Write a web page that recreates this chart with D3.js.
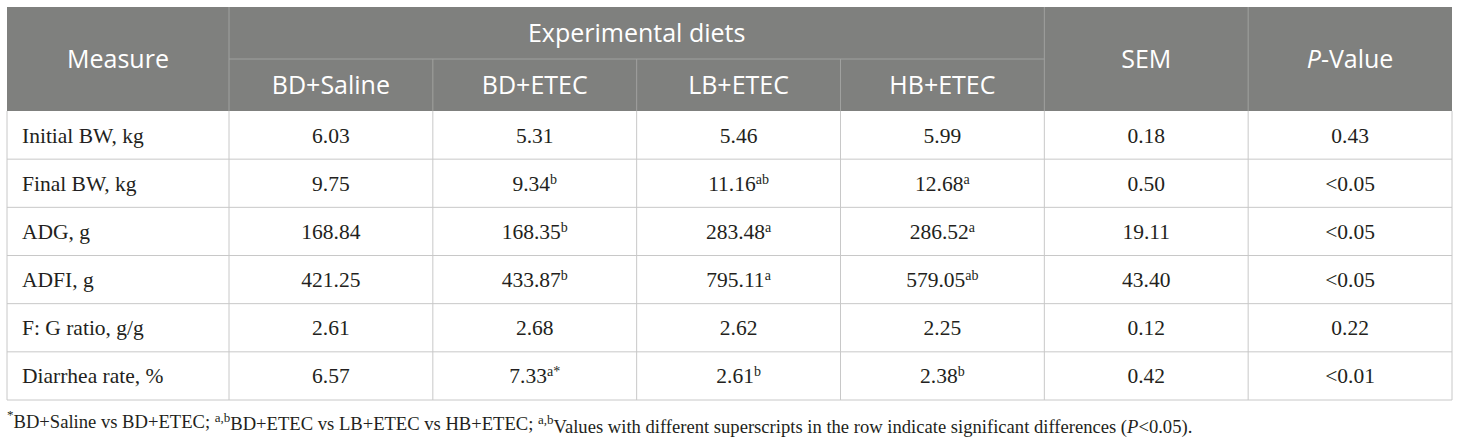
<!DOCTYPE html>
<html lang="en">
    <head>
        <meta charset="utf-8">
        <title>Experimental diets table</title>
        <script type="text/javascript" src="https://d3js.org/d3.v7.min.js"></script>

        <style type="text/css">
            body {
                margin: 0;
                background-color: #ffffff;
            }

            /* header text */
            .head {
                font-family: "Open Sans", "Noto Sans", sans-serif;
                font-size: 25px;
                fill: #ffffff;
            }

            /* body cells */
            .cell {
                font-family: "Liberation Serif", "DejaVu Serif", serif;
                font-size: 21.5px;
                fill: #231f20;
            }

            .note {
                font-family: "Liberation Serif", "DejaVu Serif", serif;
                font-size: 18.6px;
                fill: #231f20;
            }
        </style>
    </head>

    <body>
        <svg width="1460" height="438" id="svg1"></svg>

        <script type="text/javascript">

            // table data
            const measures = ["Initial BW, kg", "Final BW, kg", "ADG, g", "ADFI, g", "F: G ratio, g/g", "Diarrhea rate, %"];
            const groups = ["BD+Saline", "BD+ETEC", "LB+ETEC", "HB+ETEC"];

            const bdSaline = [6.03, 9.75, 168.84, 421.25, 2.61, 6.57];
            const bdEtec   = [5.31, 9.34, 168.35, 433.87, 2.68, 7.33];
            const lbEtec   = [5.46, 11.16, 283.48, 795.11, 2.62, 2.61];
            const hbEtec   = [5.99, 12.68, 286.52, 579.05, 2.25, 2.38];

            // superscript letters
            const bdSalineSup = ["", "", "", "", "", ""];
            const bdEtecSup   = ["", "b", "b", "b", "", "a*"];
            const lbEtecSup   = ["", "ab", "a", "a", "", "b"];
            const hbEtecSup   = ["", "a", "a", "ab", "", "b"];

            const sem = [0.18, 0.50, 19.11, 43.40, 0.12, 0.42];
            const pValues = ["0.43", "<0.05", "<0.05", "<0.05", "0.22", "<0.01"];

            const svg = d3.select("#svg1");
            const tLeft = 7, tRight = 1452, tTop = 7, headH = 104, tBottom = 400;
            const firstColW = 222;
            const headColor = "#7f807e";
            const headLine = "#a0a19f";
            const bodyLine = "#c8c8c8";

            // column scale for the 6 value columns
            const colKeys = groups.concat(["SEM", "P"]);
            const xScale = d3.scaleBand()
                            .domain(colKeys)
                            .range([tLeft + firstColW, tRight]);

            // row scale for data rows
            const yScale = d3.scaleBand()
                            .domain(measures)
                            .range([tTop + headH, tBottom]);

            const fmt = d3.format(".2f");

            // header background
            svg.append("rect")
                .attr("x", tLeft)
                .attr("y", tTop)
                .attr("width", tRight - tLeft)
                .attr("height", headH)
                .style("fill", headColor);

            const midHead = tTop + headH / 2;

            // header lines
            svg.append("line")
                .attr("x1", xScale("BD+Saline")).attr("x2", xScale("SEM"))
                .attr("y1", midHead).attr("y2", midHead)
                .style("stroke", headLine);

            svg.selectAll("headv")
                .data(colKeys)
                .enter()
                .append("line")
                .attr("x1", d => xScale(d)).attr("x2", d => xScale(d))
                .attr("y1", (d, i) => (i > 0 && i < 4) ? midHead : tTop)
                .attr("y2", tTop + headH)
                .style("stroke", headLine);

            // header texts
            svg.append("text")
                .attr("class", "head")
                .attr("x", tLeft + firstColW / 2)
                .attr("y", midHead)
                .attr("dy", "0.35em")
                .attr("text-anchor", "middle")
                .text("Measure");

            svg.append("text")
                .attr("class", "head")
                .attr("x", (xScale("BD+Saline") + xScale("SEM")) / 2)
                .attr("y", tTop + headH / 4)
                .attr("dy", "0.35em")
                .attr("text-anchor", "middle")
                .text("Experimental diets");

            svg.selectAll("grouplabels")
                .data(groups)
                .enter()
                .append("text")
                .attr("class", "head")
                .attr("x", d => xScale(d) + xScale.bandwidth() / 2)
                .attr("y", tTop + headH * 3 / 4)
                .attr("dy", "0.35em")
                .attr("text-anchor", "middle")
                .text(d => d);

            svg.append("text")
                .attr("class", "head")
                .attr("x", xScale("SEM") + xScale.bandwidth() / 2)
                .attr("y", midHead)
                .attr("dy", "0.35em")
                .attr("text-anchor", "middle")
                .text("SEM");

            const pHead = svg.append("text")
                .attr("class", "head")
                .attr("x", xScale("P") + xScale.bandwidth() / 2)
                .attr("y", midHead)
                .attr("dy", "0.35em")
                .attr("text-anchor", "middle");
            pHead.append("tspan").style("font-style", "italic").text("P");
            pHead.append("tspan").text("-Value");

            // body grid lines
            svg.selectAll("rowlines")
                .data(measures)
                .enter()
                .append("line")
                .attr("x1", tLeft).attr("x2", tRight)
                .attr("y1", d => yScale(d) + yScale.bandwidth())
                .attr("y2", d => yScale(d) + yScale.bandwidth())
                .style("stroke", bodyLine);

            svg.selectAll("collines")
                .data([tLeft].concat(colKeys.map(d => xScale(d))).concat([tRight]))
                .enter()
                .append("line")
                .attr("x1", d => d).attr("x2", d => d)
                .attr("y1", tTop + headH)
                .attr("y2", tBottom)
                .style("stroke", bodyLine);

            // measure names
            svg.selectAll("measurelabels")
                .data(measures)
                .enter()
                .append("text")
                .attr("class", "cell")
                .attr("x", tLeft + 15)
                .attr("y", d => yScale(d) + yScale.bandwidth() / 2)
                .attr("dy", "0.35em")
                .text(d => d);

            // value columns
            const valueCols = [
                {key: "BD+Saline", vals: bdSaline, sup: bdSalineSup},
                {key: "BD+ETEC", vals: bdEtec, sup: bdEtecSup},
                {key: "LB+ETEC", vals: lbEtec, sup: lbEtecSup},
                {key: "HB+ETEC", vals: hbEtec, sup: hbEtecSup},
                {key: "SEM", vals: sem.map(fmt), sup: measures.map(() => "")},
                {key: "P", vals: pValues, sup: measures.map(() => "")}
            ];

            valueCols.forEach(function (col) {
                const t = svg.selectAll("v" + col.key)
                    .data(measures)
                    .enter()
                    .append("text")
                    .attr("class", "cell")
                    .attr("x", xScale(col.key) + xScale.bandwidth() / 2)
                    .attr("y", d => yScale(d) + yScale.bandwidth() / 2)
                    .attr("dy", "0.35em")
                    .attr("text-anchor", "middle");
                t.append("tspan")
                    .text((d, i) => typeof col.vals[i] === "number" ? fmt(col.vals[i]) : col.vals[i]);
                t.append("tspan")
                    .attr("dy", "-0.5em")
                    .style("font-size", "14px")
                    .text((d, i) => col.sup[i]);
            });

            // footnote
            const note = svg.append("text")
                .attr("class", "note")
                .attr("x", tLeft)
                .attr("y", 425);
            const parts = [
                ["*", "sup"], ["BD+Saline vs BD+ETEC; ", ""],
                ["a,b", "sup"], ["BD+ETEC vs LB+ETEC vs HB+ETEC; ", ""],
                ["a,b", "sup"], ["Values with different superscripts in the row indicate significant differences (", ""],
                ["P", "it"], ["<0.05).", ""]
            ];
            let raised = false;
            parts.forEach(function (p) {
                const s = note.append("tspan").text(p[0]);
                if (p[1] === "sup") {
                    s.attr("dy", raised ? 0 : "-0.45em").style("font-size", "13px");
                    raised = true;
                } else {
                    if (raised) s.attr("dy", "0.45em");
                    raised = false;
                    if (p[1] === "it") s.style("font-style", "italic");
                }
            });

        </script>
    </body>
</html>
